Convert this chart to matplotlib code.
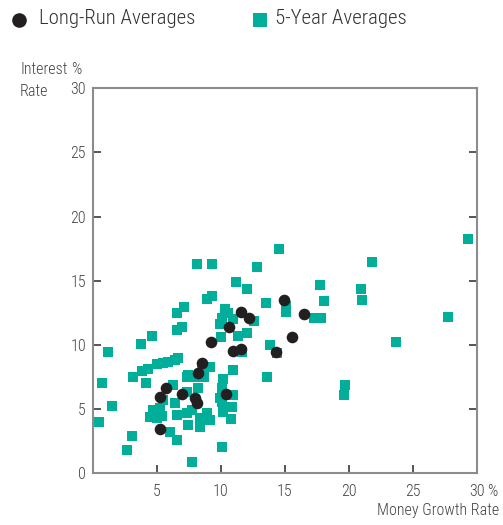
import matplotlib
matplotlib.use("Agg")
import matplotlib.pyplot as plt
from matplotlib import font_manager as fm
from matplotlib.lines import Line2D

# ---- data ----
long_run_x = [16.5, 14.95, 11.56, 12.16, 10.6, 15.55, 14.27, 10.96, 11.56, 10.37,
              9.19, 8.49, 8.18, 5.68, 5.23, 6.98, 7.97, 8.1, 5.23]
long_run_y = [12.4, 13.5, 12.57, 12.1, 11.4, 10.6, 9.43, 9.56, 9.66, 6.18,
              10.26, 8.62, 7.84, 6.67, 5.97, 6.18, 5.85, 5.46, 3.43]

five_year_x = [29.3, 21.8, 17.76, 20.9, 18.07, 21.04, 17.3, 17.8, 27.7, 23.7, 19.7, 19.6,
               14.5, 12.8, 11.2, 12.05, 13.5, 15.1, 15.1, 12.6, 10.96, 11.35, 12.05, 13.85,
               14.4, 11.66, 10.9, 13.6, 10.96, 10.83, 10.78,
               10.3, 10.57, 10.05, 10.0, 9.92, 10.18, 10.18, 10.05,
               8.15, 9.32, 8.9, 9.3, 7.13, 6.58, 6.95, 6.54, 4.64, 3.72, 1.2, 0.73, 1.5,
               0.47, 3.07, 2.68, 3.15, 4.14,
               3.8, 4.32, 4.97, 5.5, 5.88, 6.4, 6.64,
               7.45, 9.14, 8.49, 8.67, 7.97, 7.32,
               8.23, 6.27, 7.32, 5.5, 6.4, 5.23, 4.71, 4.97, 6.54, 7.32, 7.7, 8.36, 8.88,
               9.14, 7.45, 8.36, 6.02, 6.54, 7.7, 10.05, 4.45, 9.92, 5.4, 10.05]
five_year_y = [18.25, 16.5, 14.65, 14.4, 13.4, 13.5, 12.1, 12.1, 12.2, 10.2, 6.86, 6.08,
               17.5, 16.1, 14.9, 14.4, 13.25, 13.0, 12.6, 11.85, 12.0, 10.7, 10.9, 10.0,
               9.4, 9.43, 8.05, 7.48, 6.08, 5.14, 4.26,
               12.78, 12.47, 12.08, 10.6, 11.64, 7.33, 4.8, 2.07,
               16.29, 16.29, 13.62, 13.85, 12.94, 12.47, 11.38, 11.17, 10.7, 10.08, 9.48, 7.01, 5.22,
               4.02, 2.93, 1.79, 7.48, 7.01,
               8.0, 8.13, 8.5, 8.6, 8.68, 8.83, 8.99,
               7.66, 8.31, 8.18, 7.53, 7.53, 7.53,
               6.62, 6.88, 6.36, 5.71, 5.46, 5.07, 4.93, 4.29, 4.54, 4.68, 4.93, 4.29, 4.68,
               4.15, 3.76, 3.63, 3.24, 2.6, 0.9, 5.58, 4.39, 5.85, 4.47, 6.62]

x_ticks = [5, 10, 15, 20, 25, 30]
y_ticks = [0, 5, 10, 15, 20, 25, 30]

# ---- fonts ----
avail = {f.name for f in fm.fontManager.ttflist}
fams = [f for f in ['Roboto Condensed', 'Archivo Narrow', 'PT Sans Narrow', 'Liberation Sans']
        if f in avail] + ['DejaVu Sans']
plt.rcParams['font.family'] = fams
plt.rcParams['font.weight'] = 'light'

TEAL = '#00AE9A'
DARK = '#231F20'
TXT = '#444444'
SPINE = '#8C8C8C'
TFS = 11.5

W, H = 503, 525
fig = plt.figure(figsize=(W / 100, H / 100), dpi=100)
ax = fig.add_axes([93 / W, (H - 473.3) / H, 384 / W, 385 / H])

ax.scatter(five_year_x, five_year_y, marker='s', s=62, color=TEAL, linewidths=0, zorder=2)
ax.scatter(long_run_x, long_run_y, marker='o', s=70, color=DARK, linewidths=0, zorder=3)

ax.set_xlim(0, 30)
ax.set_ylim(0, 30)
ax.set_xticks(x_ticks)
ax.set_xticklabels([str(v) for v in x_ticks])
ax.set_yticks(y_ticks)
ax.set_yticklabels([str(v) for v in y_ticks])

for s in ax.spines.values():
    s.set_color(SPINE)
    s.set_linewidth(1.5)

ax.tick_params(axis='both', direction='in', length=6, width=1.4, color='#555555',
               labelcolor=TXT, labelsize=TFS)
ax.tick_params(axis='x', pad=8)
ax.tick_params(axis='y', pad=5, right=True, labelright=False)

# % next to 30 on x axis
ax.annotate('%', xy=(1.0, 0), xycoords='axes fraction', xytext=(7.5, -8),
            textcoords='offset points', ha='left', va='top', fontsize=TFS, color=TXT)
fig.text(499 / W, 1 - 511 / H, 'Money Growth Rate', ha='right', va='center',
         fontsize=TFS, color=TXT)

fig.text(20 / W, 1 - 69 / H, 'Interest', ha='left', va='center', fontsize=TFS, color=TXT)
fig.text(71 / W, 1 - 69 / H, '%', ha='left', va='center', fontsize=TFS, color=TXT)
fig.text(20 / W, 1 - 91 / H, 'Rate', ha='left', va='center', fontsize=TFS, color=TXT)

# legend
fig.add_artist(Line2D([19 / W], [1 - 20 / H], marker='o', markersize=9.5, color=DARK,
                      linestyle='none', transform=fig.transFigure))
fig.text(39 / W, 1 - 19 / H, 'Long-Run Averages', ha='left', va='center', fontsize=15, color='#333333')
fig.add_artist(Line2D([260 / W], [1 - 19.5 / H], marker='s', markersize=10.5, color=TEAL,
                      linestyle='none', markeredgewidth=0, transform=fig.transFigure))
fig.text(275 / W, 1 - 19 / H, '5-Year Averages', ha='left', va='center', fontsize=15, color='#333333')

fig.savefig('out.png', dpi=100)
